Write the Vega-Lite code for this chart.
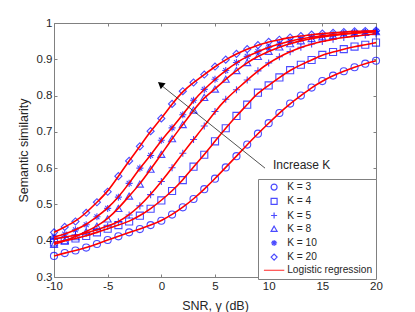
{
  "$schema": "https://vega.github.io/schema/vega-lite/v6.json",
  "autosize": "none",
  "width": 322,
  "height": 254,
  "padding": {"left": 54, "top": 23, "right": 39, "bottom": 35},
  "background": "white",
  "config": {
    "font": "Liberation Sans",
    "view": {"stroke": null},
    "axis": {
      "domainColor": "#808080",
      "tickColor": "#808080",
      "tickSize": -3,
      "labelFontSize": 11.5,
      "labelColor": "#262626",
      "titleFontSize": 12.5,
      "titleColor": "#262626",
      "titleFontWeight": "normal",
      "grid": false,
      "labelFont": "Liberation Sans",
      "titleFont": "Liberation Sans",
      "labelPadding": 5,
      "labelFlush": false,
      "labelOverlap": false
    }
  },
  "datasets": {
    "sim": [
      {"x": -10, "K = 3": 0.358, "K = 4": 0.395, "K = 5": 0.405, "K = 8": 0.390, "K = 10": 0.410, "K = 20": 0.423},
      {"x": -9, "K = 3": 0.366, "K = 4": 0.400, "K = 5": 0.410, "K = 8": 0.400, "K = 10": 0.418, "K = 20": 0.438},
      {"x": -8, "K = 3": 0.373, "K = 4": 0.406, "K = 5": 0.415, "K = 8": 0.411, "K = 10": 0.430, "K = 20": 0.453},
      {"x": -7, "K = 3": 0.381, "K = 4": 0.413, "K = 5": 0.421, "K = 8": 0.425, "K = 10": 0.444, "K = 20": 0.477},
      {"x": -6, "K = 3": 0.391, "K = 4": 0.423, "K = 5": 0.430, "K = 8": 0.440, "K = 10": 0.466, "K = 20": 0.506},
      {"x": -5, "K = 3": 0.402, "K = 4": 0.433, "K = 5": 0.440, "K = 8": 0.460, "K = 10": 0.489, "K = 20": 0.535},
      {"x": -4, "K = 3": 0.412, "K = 4": 0.443, "K = 5": 0.452, "K = 8": 0.489, "K = 10": 0.520, "K = 20": 0.578},
      {"x": -3, "K = 3": 0.423, "K = 4": 0.453, "K = 5": 0.471, "K = 8": 0.523, "K = 10": 0.558, "K = 20": 0.620},
      {"x": -2, "K = 3": 0.432, "K = 4": 0.469, "K = 5": 0.496, "K = 8": 0.556, "K = 10": 0.600, "K = 20": 0.660},
      {"x": -1, "K = 3": 0.443, "K = 4": 0.488, "K = 5": 0.527, "K = 8": 0.597, "K = 10": 0.635, "K = 20": 0.702},
      {"x": 0, "K = 3": 0.455, "K = 4": 0.511, "K = 5": 0.563, "K = 8": 0.638, "K = 10": 0.677, "K = 20": 0.737},
      {"x": 1, "K = 3": 0.472, "K = 4": 0.537, "K = 5": 0.601, "K = 8": 0.681, "K = 10": 0.711, "K = 20": 0.777},
      {"x": 2, "K = 3": 0.492, "K = 4": 0.567, "K = 5": 0.641, "K = 8": 0.720, "K = 10": 0.747, "K = 20": 0.812},
      {"x": 3, "K = 3": 0.515, "K = 4": 0.604, "K = 5": 0.679, "K = 8": 0.760, "K = 10": 0.787, "K = 20": 0.836},
      {"x": 4, "K = 3": 0.542, "K = 4": 0.637, "K = 5": 0.716, "K = 8": 0.795, "K = 10": 0.817, "K = 20": 0.858},
      {"x": 5, "K = 3": 0.571, "K = 4": 0.674, "K = 5": 0.756, "K = 8": 0.818, "K = 10": 0.845, "K = 20": 0.880},
      {"x": 6, "K = 3": 0.602, "K = 4": 0.710, "K = 5": 0.790, "K = 8": 0.845, "K = 10": 0.869, "K = 20": 0.899},
      {"x": 7, "K = 3": 0.633, "K = 4": 0.744, "K = 5": 0.816, "K = 8": 0.869, "K = 10": 0.891, "K = 20": 0.915},
      {"x": 8, "K = 3": 0.665, "K = 4": 0.775, "K = 5": 0.843, "K = 8": 0.891, "K = 10": 0.908, "K = 20": 0.928},
      {"x": 9, "K = 3": 0.695, "K = 4": 0.808, "K = 5": 0.868, "K = 8": 0.908, "K = 10": 0.921, "K = 20": 0.939},
      {"x": 10, "K = 3": 0.724, "K = 4": 0.828, "K = 5": 0.890, "K = 8": 0.922, "K = 10": 0.933, "K = 20": 0.948},
      {"x": 11, "K = 3": 0.752, "K = 4": 0.850, "K = 5": 0.907, "K = 8": 0.934, "K = 10": 0.942, "K = 20": 0.954},
      {"x": 12, "K = 3": 0.778, "K = 4": 0.870, "K = 5": 0.921, "K = 8": 0.943, "K = 10": 0.950, "K = 20": 0.960},
      {"x": 13, "K = 3": 0.800, "K = 4": 0.885, "K = 5": 0.933, "K = 8": 0.951, "K = 10": 0.956, "K = 20": 0.964},
      {"x": 14, "K = 3": 0.822, "K = 4": 0.898, "K = 5": 0.942, "K = 8": 0.957, "K = 10": 0.961, "K = 20": 0.968},
      {"x": 15, "K = 3": 0.840, "K = 4": 0.912, "K = 5": 0.949, "K = 8": 0.962, "K = 10": 0.965, "K = 20": 0.971},
      {"x": 16, "K = 3": 0.855, "K = 4": 0.920, "K = 5": 0.955, "K = 8": 0.966, "K = 10": 0.968, "K = 20": 0.973},
      {"x": 17, "K = 3": 0.867, "K = 4": 0.928, "K = 5": 0.960, "K = 8": 0.969, "K = 10": 0.971, "K = 20": 0.975},
      {"x": 18, "K = 3": 0.878, "K = 4": 0.935, "K = 5": 0.964, "K = 8": 0.972, "K = 10": 0.973, "K = 20": 0.977},
      {"x": 19, "K = 3": 0.888, "K = 4": 0.940, "K = 5": 0.967, "K = 8": 0.974, "K = 10": 0.975, "K = 20": 0.978},
      {"x": 20, "K = 3": 0.896, "K = 4": 0.946, "K = 5": 0.970, "K = 8": 0.976, "K = 10": 0.977, "K = 20": 0.979}
    ],
    "arrow": [{"x": 9.66, "y": 0.600, "x2": -0.2, "y2": 0.833}],
    "head": [{"x": -0.07, "y": 0.8315}],
    "label": [{"x": 10.4, "y": 0.609, "text": "Increase K"}]
  },
  "layer": [
    {
      "data": {"name": "sim"},
      "transform": [{"fold": ["K = 3", "K = 4", "K = 5", "K = 8", "K = 10", "K = 20"], "as": ["series", "y"]}],
      "mark": {"type": "point", "filled": false, "strokeWidth": 1.1, "size": 50},
      "encoding": {
        "x": {"field": "x", "type": "quantitative", "scale": {"domain": [-10, 20], "nice": false},
              "axis": {"orient": "bottom", "values": [-10, -5, 0, 5, 10, 15, 20], "labelExpr": "'' + datum.value", "title": "SNR, γ (dB)", "titlePadding": 8, "labelPadding": 6}},
        "y": {"field": "y", "type": "quantitative", "scale": {"domain": [0.3, 1], "nice": false, "zero": false},
              "axis": {"orient": "left", "values": [0.3, 0.4, 0.5, 0.6, 0.7, 0.8, 0.9, 1], "labelExpr": "'' + datum.value", "title": "Semantic similarity", "titlePadding": 6}},
        "shape": {"field": "series", "type": "nominal",
          "scale": {"domain": ["K = 3", "K = 4", "K = 5", "K = 8", "K = 10", "K = 20", "Logistic regression"],
                    "range": ["circle", "square", "M-1,0L1,0M0,-1L0,1", "triangle-up", "M-1,0L1,0M0,-1L0,1M-0.7,-0.7L0.7,0.7M-0.7,0.7L0.7,-0.7", "diamond", "M-3.4,0L3.4,0"]},
          "legend": {"orient": "none", "legendX": 204, "legendY": 156, "title": null, "strokeColor": "#808080", "fillColor": "#ffffff", "padding": 3, "symbolOffset": 8, "labelOffset": 8, "rowPadding": 2.2, "labelFontSize": 10.2, "labelColor": "#262626", "symbolStrokeWidth": 1.2, "symbolSize": 36}},
        "color": {"field": "series", "type": "nominal",
          "scale": {"domain": ["K = 3", "K = 4", "K = 5", "K = 8", "K = 10", "K = 20", "Logistic regression"],
                    "range": ["#0000ff", "#0000ff", "#0000ff", "#0000ff", "#0000ff", "#0000ff", "#ff0000"]},
          "legend": {"orient": "none", "legendX": 204, "legendY": 156, "title": null, "strokeColor": "#808080", "fillColor": "#ffffff", "padding": 3, "symbolOffset": 8, "labelOffset": 8, "rowPadding": 2.2, "labelFontSize": 10.2, "labelColor": "#262626", "symbolStrokeWidth": 1.2, "symbolSize": 36}}
      }
    },
    {
      "data": {"name": "sim"},
      "transform": [{"fold": ["K = 3", "K = 4", "K = 5", "K = 8", "K = 10", "K = 20"], "as": ["series", "y"]}],
      "mark": {"type": "line", "interpolate": "basis", "color": "#ff0000", "strokeWidth": 1.6},
      "encoding": {
        "x": {"field": "x", "type": "quantitative", "axis": {"orient": "top", "values": [-10, -5, 0, 5, 10, 15, 20], "labels": false, "title": null}},
        "y": {"field": "y", "type": "quantitative", "axis": {"orient": "right", "values": [0.3, 0.4, 0.5, 0.6, 0.7, 0.8, 0.9, 1], "labels": false, "title": null}},
        "detail": {"field": "series"}
      }
    },
    {
      "data": {"name": "arrow"},
      "mark": {"type": "rule", "color": "#262626", "strokeWidth": 0.8},
      "encoding": {
        "x": {"field": "x", "type": "quantitative", "axis": null},
        "y": {"field": "y", "type": "quantitative", "axis": null},
        "x2": {"field": "x2"},
        "y2": {"field": "y2"}
      }
    },
    {
      "data": {"name": "head"},
      "mark": {"type": "point", "shape": "triangle-up", "filled": true, "color": "#000000", "size": 60, "angle": 308.8, "opacity": 1},
      "encoding": {
        "x": {"field": "x", "type": "quantitative", "axis": null},
        "y": {"field": "y", "type": "quantitative", "axis": null}
      }
    },
    {
      "data": {"name": "label"},
      "mark": {"type": "text", "align": "left", "baseline": "middle", "fontSize": 12, "color": "#262626", "font": "Liberation Sans"},
      "encoding": {
        "x": {"field": "x", "type": "quantitative", "axis": null},
        "y": {"field": "y", "type": "quantitative", "axis": null},
        "text": {"field": "text"}
      }
    }
  ],
  "resolve": {"axis": {"x": "independent", "y": "independent"}}
}
